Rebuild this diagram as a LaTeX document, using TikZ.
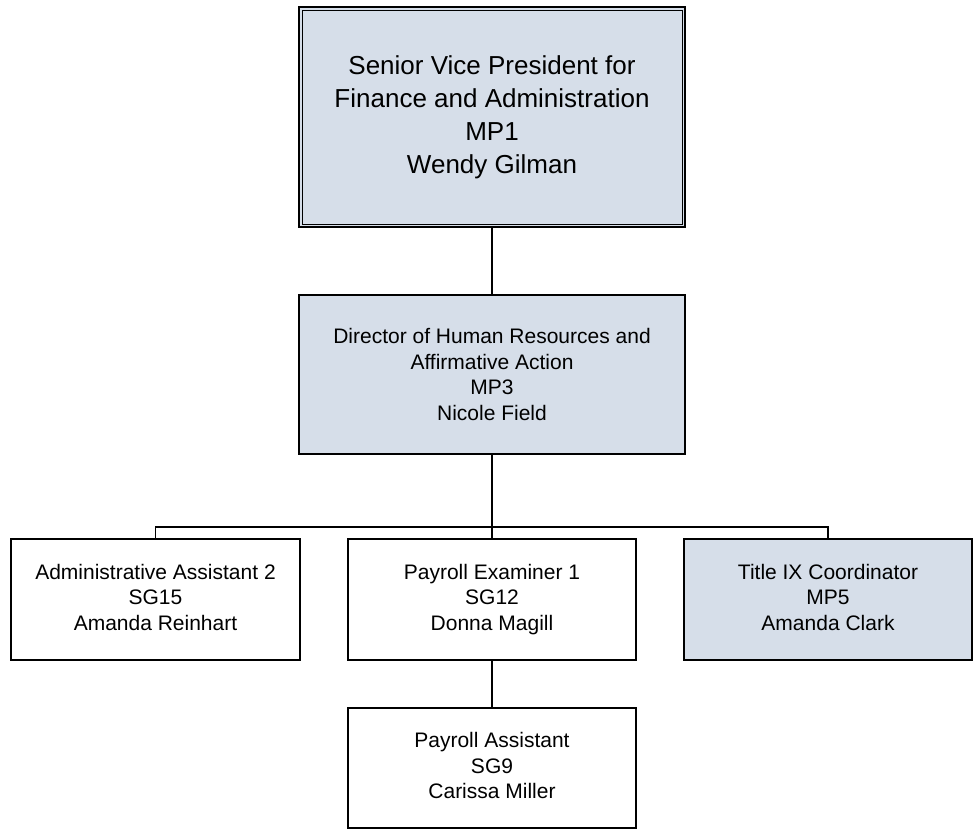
\documentclass[tikz,border=0pt]{standalone}
\usepackage{fontspec}
\setmainfont{Liberation Sans}
\definecolor{boxfill}{RGB}{214,222,233}
\begin{document}
\begin{tikzpicture}[x=1pt,y=-1pt,
  box/.style={draw=black, line width=2pt, rectangle, inner sep=0pt, align=center,
    font=\fontsize{21}{25.5}\selectfont},
  shaded/.style={fill=boxfill},
  conn/.style={draw=black, line width=1.6pt}]
\useasboundingbox (0,0) rectangle (973,830);
\node[box, shaded, minimum width=386pt, minimum height=220pt,
  font=\fontsize{26}{33}\selectfont] (svp) at (492,117)
  {Senior Vice President for\\Finance and Administration\\MP1\\Wendy Gilman};
\draw[line width=1pt] ([shift={(4pt,-4pt)}]svp.north west) rectangle ([shift={(-4pt,4pt)}]svp.south east);
\node[box, shaded, minimum width=386pt, minimum height=159pt] (dir) at (492,374.5)
  {Director of Human Resources and\\Affirmative Action\\MP3\\Nicole Field};
\node[box, minimum width=289pt, minimum height=121pt] (aa) at (155.5,599.5)
  {\strut Administrative Assistant 2\\SG15\\Amanda Reinhart\strut};
\node[box, minimum width=288pt, minimum height=121pt] (pe) at (492,599.5)
  {\strut Payroll Examiner 1\\SG12\\Donna Magill\strut};
\node[box, shaded, minimum width=288pt, minimum height=121pt] (t9) at (828,599.5)
  {\strut Title IX Coordinator\\MP5\\Amanda Clark\strut};
\node[box, minimum width=288pt, minimum height=120pt] (pa) at (492,768)
  {\strut Payroll Assistant\\SG9\\Carissa Miller\strut};
\coordinate (bus) at (492,527);
\draw[conn] (svp.south) -- (dir.north);
\draw[conn] (dir.south) -- (pe.north);
\draw[conn] (aa.north) |- (bus) -| (t9.north);
\draw[conn] (pe.south) -- (pa.north);
\end{tikzpicture}
\end{document}
